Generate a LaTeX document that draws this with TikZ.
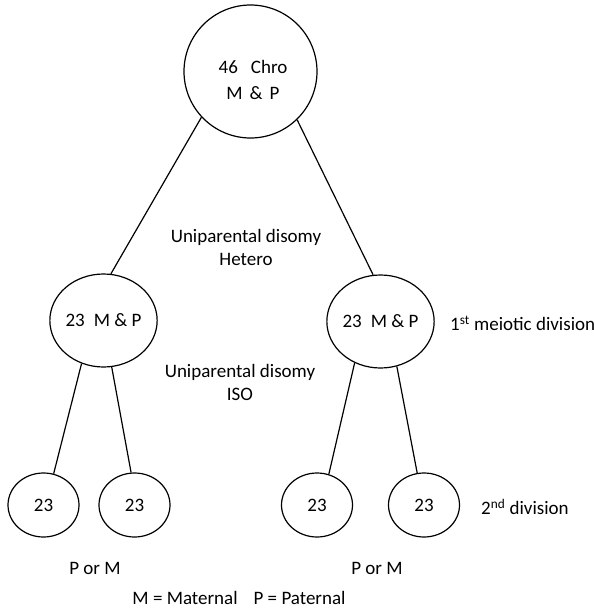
\documentclass[tikz,border=0pt]{standalone}
\usepackage{fontspec}
\setmainfont{Carlito}
\usetikzlibrary{shapes.geometric}
\begin{document}
\begin{tikzpicture}[x=1pt,y=-1pt,
  txt/.style={font=\fontsize{19}{23}\selectfont},
  cell/.style={draw, ellipse, line width=1.2pt, inner sep=0pt, txt},
  big/.style={cell, minimum width=133pt, minimum height=133pt},
  mid/.style={cell, minimum width=103pt, minimum height=93pt},
  small/.style={cell, minimum width=71pt, minimum height=64pt},
  lbl/.style={txt, inner sep=0pt, align=center},
  link/.style={line width=1.2pt}]
\useasboundingbox (0,0) rectangle (594,608);
% cells
\node[big] (top) at (250.5,71.5) {};
\node[lbl, font=\fontsize{19}{26}\selectfont] (toptxt) at (253,80) {46\hspace{13pt}Chro\\M\hspace{7pt}\&\hspace{7pt}P};
\node[mid] (lm) at (103.5,320.5) {23\hspace{9pt}M \& P};
\node[mid] (rm) at (380.5,321.5) {23\hspace{9pt}M \& P};
\node[small] (b1) at (43.5,505) {23};
\node[small] (b2) at (134.5,505) {23};
\node[small] (b3) at (317,505) {23};
\node[small] (b4) at (424,505) {23};
% connectors
\draw[link] (top.223) -- (lm.81);
\draw[link] (top.314) -- (rm.99);
\draw[link] (lm.243) -- (b1.72);
\draw[link] (lm.280) -- (b2.96);
\draw[link] (rm.238) -- (b3.69);
\draw[link] (rm.290) -- (b4.102);
% labels
\node[lbl] (het) at (246,247) {Uniparental disomy\\Hetero};
\node[lbl] (iso) at (240,382) {Uniparental disomy\\ISO};
\node[lbl, anchor=west] (first) at (450,323) {1\textsuperscript{st} meiotic division};
\node[lbl, anchor=west] (second) at (481,507) {2\textsuperscript{nd} division};
\node[lbl] (pm1) at (95,568) {P or M};
\node[lbl] (pm2) at (377,568) {P or M};
\node[lbl] (key) at (239,598) {M = Maternal\hspace{16pt}P = Paternal};
\end{tikzpicture}
\end{document}
